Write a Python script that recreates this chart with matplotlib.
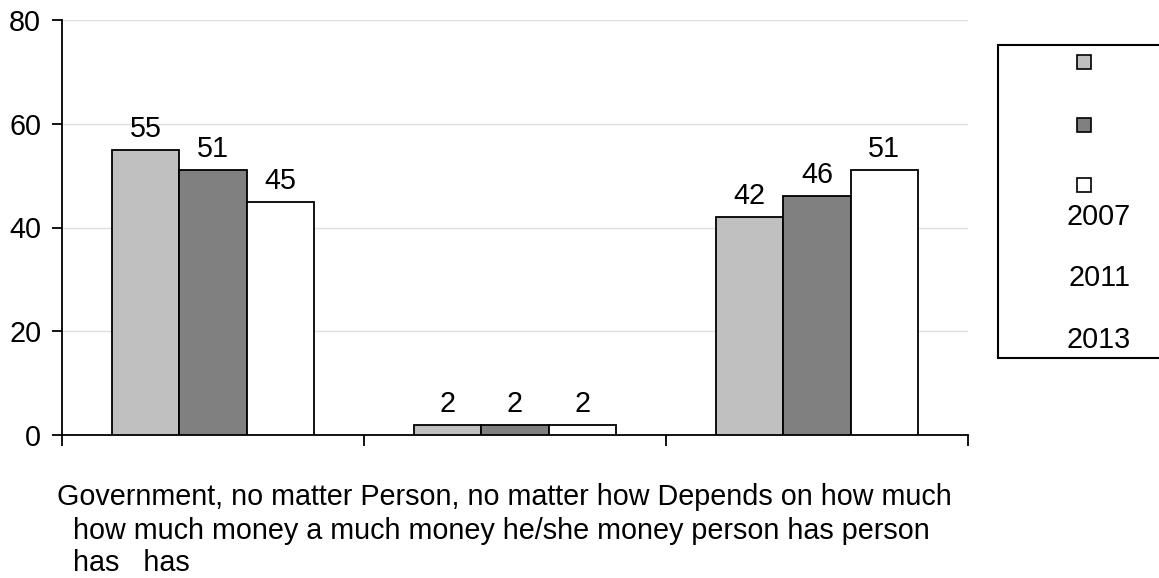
import matplotlib
matplotlib.use("Agg")
import matplotlib.pyplot as plt
from matplotlib.lines import Line2D
from matplotlib.patches import Rectangle

plt.rcParams['font.family'] = ['Liberation Sans', 'DejaVu Sans']

categories = ["Government, no matter how much money a person has",
              "Person, no matter how much money he/she has",
              "Depends on how much money person has"]
years = ["2007", "2011", "2013"]
values = {
    "2007": [55, 2, 42],
    "2011": [51, 2, 46],
    "2013": [45, 2, 51],
}
colors = ["#c0c0c0", "#808080", "#ffffff"]
yticks = [0, 20, 40, 60, 80]
label_lines = ["Government, no matter Person, no matter how Depends on how much",
               "  how much money a much money he/she money person has person",
               "  has   has"]

FS = 20.7
W, H = 1159, 578
fig = plt.figure(figsize=(W / 100, H / 100), dpi=100)
ax = fig.add_axes([62 / W, (H - 435) / H, 906 / W, 415 / H])

n = len(years)
bw = 2 / 9
for i, (yr, c) in enumerate(zip(years, colors)):
    xs = [k + (i - (n - 1) / 2) * bw for k in range(len(categories))]
    bars = ax.bar(xs, values[yr], width=bw, color=c, edgecolor="black", linewidth=1.3, zorder=3)
    ax.bar_label(bars, labels=[str(v) for v in values[yr]], padding=5, fontsize=FS)

ax.set_xlim(-0.5, len(categories) - 0.5)
ax.set_ylim(0, 80)
ax.set_yticks(yticks)
ax.set_yticklabels([str(t) for t in yticks], fontsize=FS)
ax.set_xticks([k - 0.5 for k in range(len(categories) + 1)])
ax.set_xticklabels([])
ax.tick_params(axis="x", direction="out", length=8, width=1.3)
ax.tick_params(axis="y", direction="out", length=7, width=1.3, pad=8)
ax.yaxis.grid(True, color="#e0e0e0", linewidth=1, zorder=0)
ax.set_axisbelow(True)
for s in ["top", "right"]:
    ax.spines[s].set_visible(False)
for s in ["left", "bottom"]:
    ax.spines[s].set_linewidth(1.3)

# x labels (overlapping wrapped labels as in the reference), one line at a time
baselines = [505, 539, 571]
for line, by in zip(label_lines, baselines):
    fig.text(57 / W, 1 - by / H, line, fontsize=FS, ha="left", va="baseline")

# custom legend
fig.add_artist(Rectangle((998 / W, 1 - 358 / H), 200 / W, 313 / H, transform=fig.transFigure,
                         facecolor="white", edgecolor="black", linewidth=1.5))
marker_y = [62, 125, 185]
text_y = [217, 278, 340]
for c, my, yr, ty in zip(colors, marker_y, years, text_y):
    fig.add_artist(Line2D([1084 / W], [1 - my / H], marker="s", markersize=10,
                          markerfacecolor=c, markeredgecolor="black", markeredgewidth=1.2,
                          linestyle="none", transform=fig.transFigure))
    fig.text(1099 / W, 1 - ty / H, yr, fontsize=FS, ha="center", va="center")

fig.savefig("out.png", dpi=100)
